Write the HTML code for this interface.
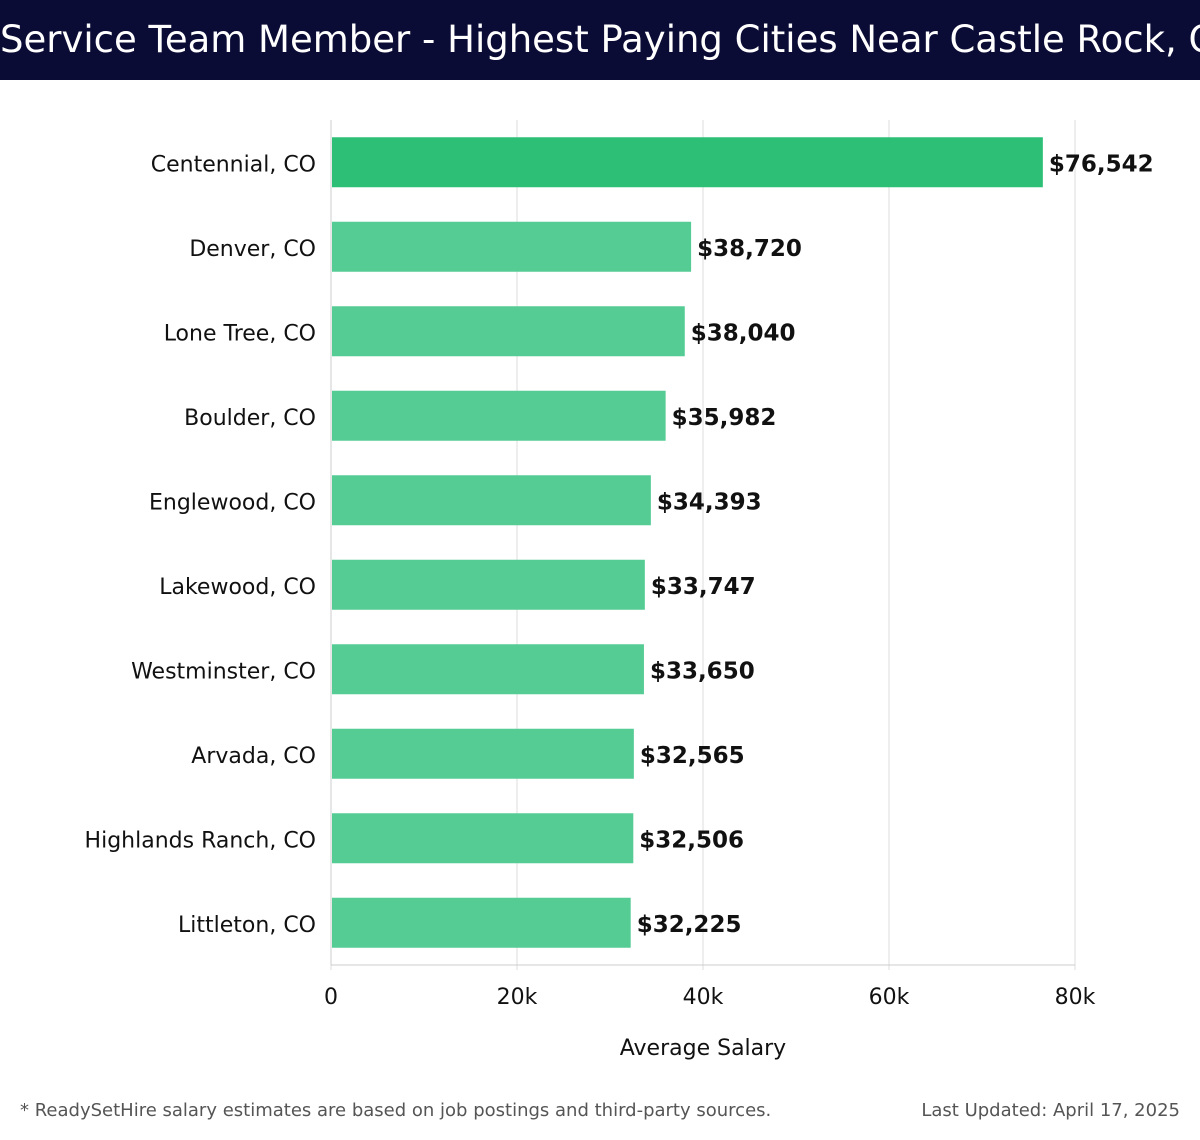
<!DOCTYPE html>
<html><head><meta charset="utf-8">
<style>
body{margin:0;width:1200px;height:1140px;background:#fff;font-family:"DejaVu Sans","Liberation Sans",sans-serif;position:relative;overflow:hidden}
#hdr{position:absolute;left:0;top:0;width:1200px;height:80px;background:#0b0c35;color:#fff;font-size:37px;line-height:80px;text-align:center;white-space:nowrap}
.foot{position:absolute;top:1100px;font-size:18px;color:#555}
</style></head><body>
<div id="hdr">Service Team Member - Highest Paying Cities Near Castle Rock, CO</div>
<svg id="chart" width="1200" height="1090" style="position:absolute;left:0;top:0"></svg>
<div class="foot" style="left:20px">* ReadySetHire salary estimates are based on job postings and third-party sources.</div>
<div class="foot" style="right:20px">Last Updated: April 17, 2025</div>
<script>
const cities=["Centennial, CO","Denver, CO","Lone Tree, CO","Boulder, CO","Englewood, CO","Lakewood, CO","Westminster, CO","Arvada, CO","Highlands Ranch, CO","Littleton, CO"];
const salaries=[76542,38720,38040,35982,34393,33747,33650,32565,32506,32225];
const tickValues=[0,20000,40000,60000,80000];
const tickLabels=["0","20k","40k","60k","80k"];
const NS="http://www.w3.org/2000/svg";
const svg=document.getElementById('chart');
const x0=331,x1=1075,yTop=120,yBot=965;
const xs=v=>x0+(v/80000)*(x1-x0);
const band=(yBot-yTop)/cities.length;
const yc=i=>yTop+band*(i+0.5);
function mk(t,a){const e=document.createElementNS(NS,t);for(const k in a)e.setAttribute(k,a[k]);svg.appendChild(e);return e;}
tickValues.forEach((v,i)=>{
 const g=mk('line',{x1:xs(v),x2:xs(v),y1:yTop,y2:yBot+5,stroke:'#ddd','stroke-width':1});
 
 
 const t=mk('text',{x:xs(v),y:1004,'text-anchor':'middle','font-size':22,fill:'#111'});
 t.textContent=tickLabels[i];
 
 
});
const ax=mk('line',{x1:x0,x2:x1,y1:yBot,y2:yBot,stroke:'#ccc'});


const ay=mk('line',{x1:x0,x2:x0,y1:yTop,y2:yBot,stroke:'#ccc'});


cities.forEach((c,i)=>{
 const y=yc(i);
 const r=mk('rect',{x:x0+1,y:y-25,width:xs(salaries[i])-x0-1,height:50,fill:i==0?'#2dbf76':'#56cc95'});
 
 
 const l=mk('text',{x:316,y:y+9,'text-anchor':'end','font-size':22,fill:'#111'});
 l.textContent=c;
 
 
 const v=mk('text',{x:xs(salaries[i])+6,y:y+9,'font-size':23,'font-weight':'bold',fill:'#111'});
 v.textContent='$'+salaries[i].toLocaleString('en-US');
 
 
});
const at=mk('text',{x:(x0+x1)/2,y:1055,'text-anchor':'middle','font-size':22,fill:'#111'});
at.textContent='Average Salary';


</script>
</body></html>
